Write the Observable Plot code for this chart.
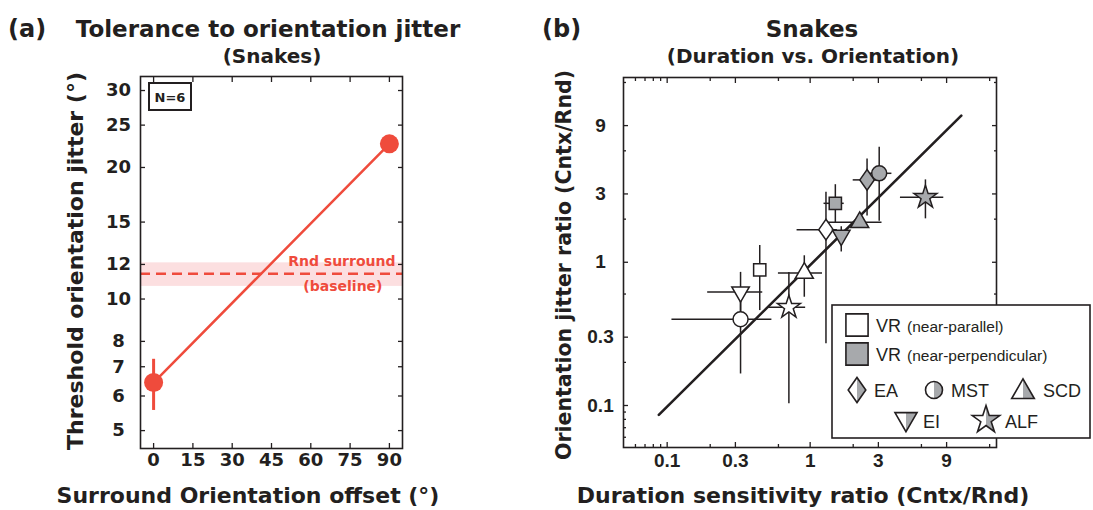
<!DOCTYPE html>
<html>
<head>
<meta charset="utf-8">
<script src="https://cdn.jsdelivr.net/npm/d3@7"></script>
<script src="https://cdn.jsdelivr.net/npm/@observablehq/plot@0.6"></script>
<style>
  body { margin: 0; background: #fff; }
  #fig { position: relative; width: 1093px; height: 510px; overflow: hidden; background: #fff; }
  #fig > svg { position: absolute; }
</style>
</head>
<body>
<div id="fig"></div>
<script>
// ---------- Panel (a): threshold jitter vs surround orientation offset ----------
const offsets = [0, 90];
const jitterMean = [6.44, 22.65];
const jitterLo = [5.56, 22.65];
const jitterHi = [7.28, 22.65];
const rndBaseline = [11.42];
const rndLo = [10.69];
const rndHi = [12.1];
const offsetTicks = [0, 15, 30, 45, 60, 75, 90];
const jitterTicks = [5, 6, 7, 8, 10, 12, 15, 20, 25, 30];

// ---------- Panel (b): duration vs orientation ratios per observer ----------
const observers = ["VR", "EA", "MST", "SCD", "EI", "ALF"];
// near-parallel surround (open markers)
const parDur   = [0.444, 1.29, 0.326, 0.91, 0.326, 0.71];
const parDurLo = [null, 0.81, 0.108, 0.60, 0.192, 0.513];
const parDurHi = [null, 1.55, 0.54, 1.22, 0.466, 0.93];
const parOri   = [0.885, 1.69, 0.40, 0.84, 0.62, 0.485];
const parOriLo = [0.46, 0.27, 0.166, 0.57, 0.45, 0.103];
const parOriHi = [1.31, 3.08, 0.55, 1.11, 0.85, 0.85];
// near-perpendicular surround (grey markers)
const perpDur   = [1.50, 2.50, 3.04, 2.22, 1.65, 6.40];
const perpDurLo = [1.25, 2.00, 2.50, 1.31, null, 4.28];
const perpDurHi = [1.73, 3.00, 3.73, 3.18, null, 8.60];
const perpOri   = [2.58, 3.76, 4.18, 1.90, 1.54, 2.84];
const perpOriLo = [1.89, 2.10, 1.93, null, 1.18, 2.01];
const perpOriHi = [3.48, 5.27, 6.35, null, 1.77, 3.76];
// linear fit in log-log space
const fitDur = [0.0874, 11.4];
const fitOri = [0.0861, 10.56];
const ratioTicks = [0.1, 0.3, 1, 3, 9];
const ratioTickLabels = ["0.1", "0.3", "1", "3", "9"];
const ratioMinorTicks = [0.06, 0.07, 0.08, 0.09, 0.2, 0.6, 2, 6, 18];

const dark = "#231f20", red = "#ef4b3c", pink = "#fcdfe0", grey = "#a7a9ac";
const TITLE_FONT = "'DejaVu Sans', sans-serif";
const SANS = "'Liberation Sans', Arial, sans-serif";

const fig = document.getElementById("fig");

// inward ticks on all four sides of a frame
function inwardTicks(xTicks, yTicks, size) {
  const o = {stroke: dark, strokeWidth: 1.3, tickFormat: () => "", label: null};
  return [
    Plot.axisX({...o, ticks: xTicks, anchor: "bottom", tickSize: size, dy: -size}),
    Plot.axisX({...o, ticks: xTicks, anchor: "top", tickSize: size, dy: size}),
    Plot.axisY({...o, ticks: yTicks, anchor: "left", tickSize: size, dx: size}),
    Plot.axisY({...o, ticks: yTicks, anchor: "right", tickSize: size, dx: -size})
  ];
}

// ----- Panel (a) -----
const rowsA = offsets.map((o, i) => ({offset: o, mean: jitterMean[i], lo: jitterLo[i], hi: jitterHi[i]}));
const base = rndBaseline.map((v, i) => ({v, lo: rndLo[i], hi: rndHi[i]}));

const plotA = Plot.plot({
  width: 420, height: 510,
  marginLeft: 140, marginRight: 18, marginTop: 76, marginBottom: 62,
  style: {background: "transparent", fontFamily: TITLE_FONT},
  x: {domain: [-5, 95]},
  y: {type: "log", domain: [4.55, 32.3]},
  marks: [
    Plot.rect(base, {y1: "lo", y2: "hi", fill: pink}),
    Plot.ruleY(base, {y: "v", stroke: red, strokeWidth: 2.5, strokeDasharray: "10,6"}),
    Plot.text(base, {y: "v", text: () => "Rnd surround", frameAnchor: "right", textAnchor: "end",
      dx: -7, dy: -12, fill: red, fontSize: 14, fontWeight: "bold", fontFamily: TITLE_FONT}),
    Plot.text(base, {y: "v", text: () => "(baseline)", frameAnchor: "right", textAnchor: "end",
      dx: -20, dy: 13, fill: red, fontSize: 14, fontWeight: "bold", fontFamily: TITLE_FONT}),
    Plot.ruleX(rowsA, {x: "offset", y1: "lo", y2: "hi", stroke: red, strokeWidth: 3}),
    Plot.line(rowsA, {x: "offset", y: "mean", stroke: red, strokeWidth: 2.5}),
    Plot.dot(rowsA, {x: "offset", y: "mean", r: 9.5, fill: red}),
    Plot.frame({stroke: dark, strokeWidth: 1.6}),
    ...inwardTicks(offsetTicks, jitterTicks, 5),
    Plot.text(offsetTicks, {x: d => d, text: d => String(d), frameAnchor: "bottom", dy: 17,
      fontSize: 18, fontWeight: "bold", fontFamily: TITLE_FONT, fill: dark}),
    Plot.text(jitterTicks, {y: d => d, text: d => String(d), frameAnchor: "left", dx: -22,
      textAnchor: "middle", fontSize: 18, fontWeight: "bold", fontFamily: TITLE_FONT, fill: dark})
  ]
});
plotA.style.left = "0px";
plotA.style.top = "0px";
fig.appendChild(plotA);

// ----- Panel (b) -----
const rowsB = [];
observers.forEach((obs, i) => {
  rowsB.push({obs, cond: "par", x: parDur[i], y: parOri[i], x1: parDurLo[i], x2: parDurHi[i], y1: parOriLo[i], y2: parOriHi[i]});
  rowsB.push({obs, cond: "perp", x: perpDur[i], y: perpOri[i], x1: perpDurLo[i], x2: perpDurHi[i], y1: perpOriLo[i], y2: perpOriHi[i]});
});
const fitRows = fitDur.map((x, i) => ({x, y: fitOri[i]}));
const tickRows = ratioTicks.map((v, i) => ({v, label: ratioTickLabels[i]}));

const tallDiamond = {
  draw(ctx, size) {
    const h = Math.sqrt(size / 1.4), w = h * 0.7;
    ctx.moveTo(0, -h); ctx.lineTo(w, 0); ctx.lineTo(0, h); ctx.lineTo(-w, 0); ctx.closePath();
  }
};
const triangleDown = {
  draw(ctx, size) {
    const y = Math.sqrt(size / (Math.sqrt(3) * 3));
    ctx.moveTo(0, 2 * y); ctx.lineTo(-Math.sqrt(3) * y, -y); ctx.lineTo(Math.sqrt(3) * y, -y); ctx.closePath();
  }
};
const markerStyle = {
  VR:  {symbol: "square",    r: 6.9},
  EA:  {symbol: tallDiamond, r: 6.9},
  MST: {symbol: "circle",    r: 7.5},
  SCD: {symbol: "triangle",  r: 6.7},
  EI:  {symbol: triangleDown, r: 6.5},
  ALF: {symbol: "star",      r: 7.2}
};

const dotMarks = [];
observers.forEach(obs => {
  ["par", "perp"].forEach(cond => {
    dotMarks.push(Plot.dot(rowsB.filter(d => d.obs === obs && d.cond === cond), {
      x: "x", y: "y", symbol: markerStyle[obs].symbol, r: markerStyle[obs].r,
      fill: cond === "par" ? "white" : grey, stroke: dark, strokeWidth: 1.5
    }));
  });
});

const plotB = Plot.plot({
  width: 553, height: 510,
  marginLeft: 83, marginRight: 97, marginTop: 77, marginBottom: 63,
  style: {background: "transparent", fontFamily: SANS},
  x: {type: "log", domain: [0.0495, 20.1]},
  y: {type: "log", domain: [0.0509, 19.5]},
  marks: [
    Plot.line(fitRows, {x: "x", y: "y", stroke: dark, strokeWidth: 2.6}),
    Plot.ruleX(rowsB.filter(d => d.y1 != null), {x: "x", y1: "y1", y2: "y2", stroke: dark, strokeWidth: 1.5}),
    Plot.ruleY(rowsB.filter(d => d.x1 != null), {y: "y", x1: "x1", x2: "x2", stroke: dark, strokeWidth: 1.5}),
    ...dotMarks,
    Plot.frame({stroke: dark, strokeWidth: 1.6}),
    ...inwardTicks(ratioTicks, ratioTicks, 5),
    ...inwardTicks(ratioMinorTicks, ratioMinorTicks, 3),
    Plot.text(tickRows, {x: "v", text: "label", frameAnchor: "bottom", dy: 19,
      fontSize: 19, fontWeight: "bold", fontFamily: SANS, fill: dark}),
    Plot.text(tickRows, {y: "v", text: "label", frameAnchor: "left", dx: -23,
      textAnchor: "middle", fontSize: 19, fontWeight: "bold", fontFamily: SANS, fill: dark})
  ]
});
plotB.style.left = "540px";
plotB.style.top = "0px";
fig.appendChild(plotB);

// ----- Legend for panel (b): half-filled marker per observer -----
const legendEntries = [
  {obs: "VR", note: "(near-parallel)", fill: "open"},
  {obs: "VR", note: "(near-perpendicular)", fill: "grey"},
  {obs: "EA", note: "", fill: "half"},
  {obs: "MST", note: "", fill: "half"},
  {obs: "SCD", note: "", fill: "half"},
  {obs: "EI", note: "", fill: "half"},
  {obs: "ALF", note: "", fill: "half"}
];
const legendLayout = [
  {cx: 26, cy: 21, tx: 45, ty: 28, size: 12.5},
  {cx: 26, cy: 50, tx: 45, ty: 57, size: 12.5},
  {cx: 26, cy: 86, tx: 43, ty: 93, size: 8.4},
  {cx: 103, cy: 86, tx: 120, ty: 93, size: 8.5},
  {cx: 192, cy: 88, tx: 212, ty: 93, size: 8.4},
  {cx: 75, cy: 115, tx: 92, ty: 124, size: 8.2},
  {cx: 155, cy: 116, tx: 174, ty: 124, size: 8.6}
];
const legend = d3.create("svg")
  .attr("width", 260).attr("height", 136)
  .style("left", "831px").style("top", "304px");
legend.append("rect").attr("x", 1).attr("y", 1).attr("width", 258).attr("height", 133)
  .attr("fill", "white").attr("stroke", dark).attr("stroke-width", 1.6);
const d3Symbol = {square: d3.symbolSquare, circle: d3.symbolCircle, triangle: d3.symbolTriangle, star: d3.symbolStar};
legendEntries.forEach((e, i) => {
  const L = legendLayout[i];
  const s = markerStyle[e.obs].symbol;
  const type = typeof s === "string" ? d3Symbol[s] : s;
  const path = d3.symbol().type(type).size(Math.PI * L.size * L.size)();
  const g = legend.append("g").attr("transform", `translate(${L.cx},${L.cy})`);
  const clipId = `half-${i}`;
  g.append("clipPath").attr("id", clipId).append("rect")
    .attr("x", 0).attr("y", -20).attr("width", 20).attr("height", 40);
  g.append("path").attr("d", path).attr("fill", e.fill === "grey" ? grey : "white");
  if (e.fill === "half") g.append("path").attr("d", path).attr("fill", grey).attr("clip-path", `url(#${clipId})`);
  g.append("path").attr("d", path).attr("fill", "none").attr("stroke", dark).attr("stroke-width", 1.6);
  const t = legend.append("text").attr("x", L.tx).attr("y", L.ty)
    .attr("font-family", SANS).attr("font-size", 18).attr("fill", dark).text(e.obs);
  if (e.note) t.append("tspan").attr("dx", 6).attr("font-size", 15.5).text(e.note);
});
fig.appendChild(legend.node());

// ----- Titles, axis titles and annotations -----
const over = d3.create("svg").attr("width", 1093).attr("height", 510)
  .style("left", "0px").style("top", "0px").style("pointer-events", "none")
  .attr("font-family", TITLE_FONT).attr("font-weight", "bold").attr("fill", dark);
const label = (x, y, text, size, anchor = "middle", rotate = 0) =>
  over.append("text")
    .attr("transform", `translate(${x},${y}) rotate(${rotate})`)
    .attr("text-anchor", anchor).attr("font-size", size).text(text);

label(8, 37, "(a)", 24, "start");
label(268, 37, "Tolerance to orientation jitter", 23);
label(272, 63, "(Snakes)", 20);
label(83, 261, "Threshold orientation jitter (°)", 22, "middle", -90);
label(248, 503, "Surround Orientation offset (°)", 22);

label(542, 37, "(b)", 24, "start");
label(812, 37, "Snakes", 23);
label(813, 63, "(Duration vs. Orientation)", 20);
label(571, 265, "Orientation jitter ratio (Cntx/Rnd)", 20.5, "middle", -90);
label(803, 503, "Duration sensitivity ratio (Cntx/Rnd)", 22);

// sample size box
over.append("rect").attr("x", 149).attr("y", 83).attr("width", 42).attr("height", 27)
  .attr("fill", "white").attr("stroke", dark).attr("stroke-width", 2);
over.append("text").attr("x", 170).attr("y", 102).attr("text-anchor", "middle")
  .attr("font-size", 13).text("N=6");

fig.appendChild(over.node());
</script>
</body>
</html>
